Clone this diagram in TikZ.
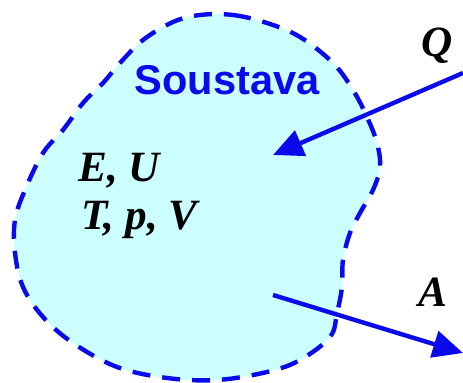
\documentclass[tikz,border=0pt]{standalone}
\usepackage{fontspec}
\setmainfont{Liberation Serif}
\setsansfont{Liberation Sans}
\usetikzlibrary{arrows.meta}
\definecolor{FillClr}{RGB}{204,255,255}
\definecolor{BlueClr}{RGB}{10,10,235}

\begin{document}
\begin{tikzpicture}[x=0.5pt,y=-0.5pt,
  flow/.style={draw=BlueClr,line width=2.2pt,-{Triangle[length=15pt,width=13.5pt]}},
  qty/.style={font=\fontsize{21.6}{25}\selectfont\bfseries\itshape,inner sep=0pt}]
\useasboundingbox (0,0) rectangle (463,383);

% hranice soustavy
\draw[fill=FillClr,draw=BlueClr,line width=2.2pt,dash pattern=on 9pt off 6pt]
  plot[smooth cycle,tension=0.6] coordinates{(200,15) (233,15) (267,23) (300,37)
  (333,63) (353,90) (367,117) (377,143) (380,167) (373,190) (360,213) (350,233)
  (343,260) (342,287) (337,313) (330,337) (300,360) (267,372) (217,380) (167,378)
  (117,367) (73,343) (43,317) (23,287) (15,253) (15,220) (25,190) (43,153) (63,130)
  (83,103) (103,83) (120,63) (143,40) (173,22)};

\node[font=\sffamily\bfseries\fontsize{20.8}{25}\selectfont,text=BlueClr,anchor=base] (soustava) at (227,95) {Soustava};
\node[qty,anchor=base west] (EU) at (78,182) {E, U};
\node[qty,anchor=base west] (TpV) at (81,230) {T, p, V};
\node[qty,anchor=base] (Q) at (437,57) {Q};
\node[qty,anchor=base] (A) at (433,307) {A};

\coordinate (qin) at (463,73);
\coordinate (qtip) at (273,155);
\coordinate (aout) at (273,295);
\coordinate (atip) at (463,353);
\draw[flow] (qin) -- (qtip);
\draw[flow] (aout) -- (atip);

\end{tikzpicture}
\end{document}
